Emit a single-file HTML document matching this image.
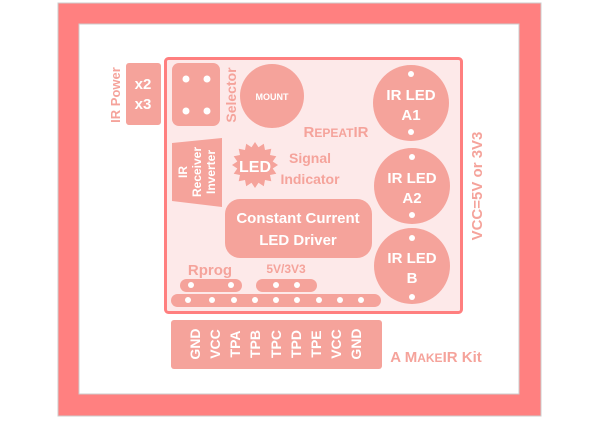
<!DOCTYPE html>
<html><head><meta charset="utf-8"><style>
html,body{margin:0;padding:0;background:#fff;width:600px;height:426px;overflow:hidden}
svg{display:block;font-family:"Liberation Sans","DejaVu Sans",sans-serif;font-weight:bold}
</style></head><body>
<svg width="600" height="426" viewBox="0 0 600 426">
<rect x="58" y="3" width="483" height="413" fill="#ff8080" stroke="#ccc" stroke-width="1"/>
<rect x="79" y="24" width="440" height="370" fill="#fff" stroke="#ccc" stroke-width="1"/>
<rect x="165.5" y="58.5" width="296" height="254" rx="3" fill="#fde9e9" stroke="#ff7f7f" stroke-width="3"/>
<g fill="#f5a39b">
<rect x="126" y="63" width="35" height="62" rx="3"/>
<rect x="172" y="63" width="48" height="63" rx="7"/>
<circle cx="272" cy="96" r="32"/>
<circle cx="411" cy="103" r="38"/>
<circle cx="412" cy="186" r="38"/>
<circle cx="412" cy="266" r="38"/>
<polygon points="172,143 222,138 222,207 172,201"/>
<polygon points="278,165 272.7,168.5 276.3,173.8 270,175 271.3,181.3 265,180 263.8,186.3 258.5,182.7 255,188 251.5,182.7 246.2,186.3 245,180 238.7,181.3 240,175 233.7,173.8 237.3,168.5 232,165 237.3,161.5 233.7,156.2 240,155 238.7,148.7 245,150 246.2,143.7 251.5,147.3 255,142 258.5,147.3 263.8,143.7 265,150 271.3,148.7 270,155 276.3,156.2 272.7,161.5"/>
<rect x="225" y="199" width="147" height="59" rx="15"/>
<rect x="180" y="279" width="62" height="13" rx="6.5"/>
<rect x="256" y="279" width="61" height="13" rx="6.5"/>
<rect x="171" y="294" width="210" height="13" rx="6.5"/>
<rect x="171" y="320" width="211" height="49" rx="3"/>
</g>
<g fill="#fff">
<circle cx="186" cy="79" r="3.5"/><circle cx="207" cy="79" r="3.5"/>
<circle cx="186" cy="111" r="3.5"/><circle cx="207" cy="111" r="3.5"/>
<circle cx="411" cy="74" r="3"/><circle cx="411" cy="132" r="3"/>
<circle cx="412" cy="157" r="3"/><circle cx="412" cy="215" r="3"/>
<circle cx="412" cy="238" r="3"/><circle cx="412" cy="297" r="3"/>
<circle cx="191" cy="285" r="3"/><circle cx="231" cy="285" r="3"/>
<circle cx="276" cy="285" r="3"/><circle cx="297" cy="285" r="3"/>
<circle cx="188" cy="300" r="3"/><circle cx="212" cy="300" r="3"/><circle cx="234" cy="300" r="3"/>
<circle cx="255" cy="300" r="3"/><circle cx="276" cy="300" r="3"/><circle cx="297" cy="300" r="3"/>
<circle cx="319" cy="300" r="3"/><circle cx="340" cy="300" r="3"/><circle cx="361" cy="300" r="3"/>
</g>
<g fill="#fff" text-anchor="middle">
<text x="143" y="89" font-size="15">x2</text>
<text x="143" y="109" font-size="15">x3</text>
<text x="272" y="100" font-size="9">MOUNT</text>
<text x="411" y="100" font-size="15">IR LED</text>
<text x="411" y="120" font-size="15">A1</text>
<text x="412" y="183" font-size="15">IR LED</text>
<text x="412" y="203" font-size="15">A2</text>
<text x="412" y="263" font-size="15">IR LED</text>
<text x="412" y="283" font-size="15">B</text>
<text x="255" y="172" font-size="16">LED</text>
<text x="298" y="223" font-size="15">Constant Current</text>
<text x="298" y="245" font-size="15">LED Driver</text>
<g font-size="12">
<text transform="translate(187,172) rotate(-90)">IR</text>
<text transform="translate(201,172) rotate(-90)">Receiver</text>
<text transform="translate(215,172) rotate(-90)">Inverter</text>
</g>
<g font-size="14">
<text transform="translate(200,344) rotate(-90)">GND</text>
<text transform="translate(220,344) rotate(-90)">VCC</text>
<text transform="translate(240,344) rotate(-90)">TPA</text>
<text transform="translate(260,344) rotate(-90)">TPB</text>
<text transform="translate(281,344) rotate(-90)">TPC</text>
<text transform="translate(301,344) rotate(-90)">TPD</text>
<text transform="translate(321,344) rotate(-90)">TPE</text>
<text transform="translate(341,344) rotate(-90)">VCC</text>
<text transform="translate(361,344) rotate(-90)">GND</text>
</g>
</g>
<g fill="#f5a39b" text-anchor="middle">
<text transform="translate(120,95) rotate(-90)" font-size="13">IR Power</text>
<text transform="translate(236,95) rotate(-90)" font-size="14">Selector</text>
<text x="310" y="163" font-size="14">Signal</text>
<text x="310" y="184" font-size="14">Indicator</text>
<text x="210" y="275" font-size="15">Rprog</text>
<text x="286" y="273" font-size="12">5V/3V3</text>
<text x="336" y="137" font-size="15">R<tspan font-size="12">EPEAT</tspan>IR</text>
<text x="436" y="362" font-size="15">A M<tspan font-size="12">AKE</tspan>IR Kit</text>
<text transform="translate(482,186) rotate(-90)" font-size="15">VCC=5V or 3V3</text>
</g>
</svg>
</body></html>
